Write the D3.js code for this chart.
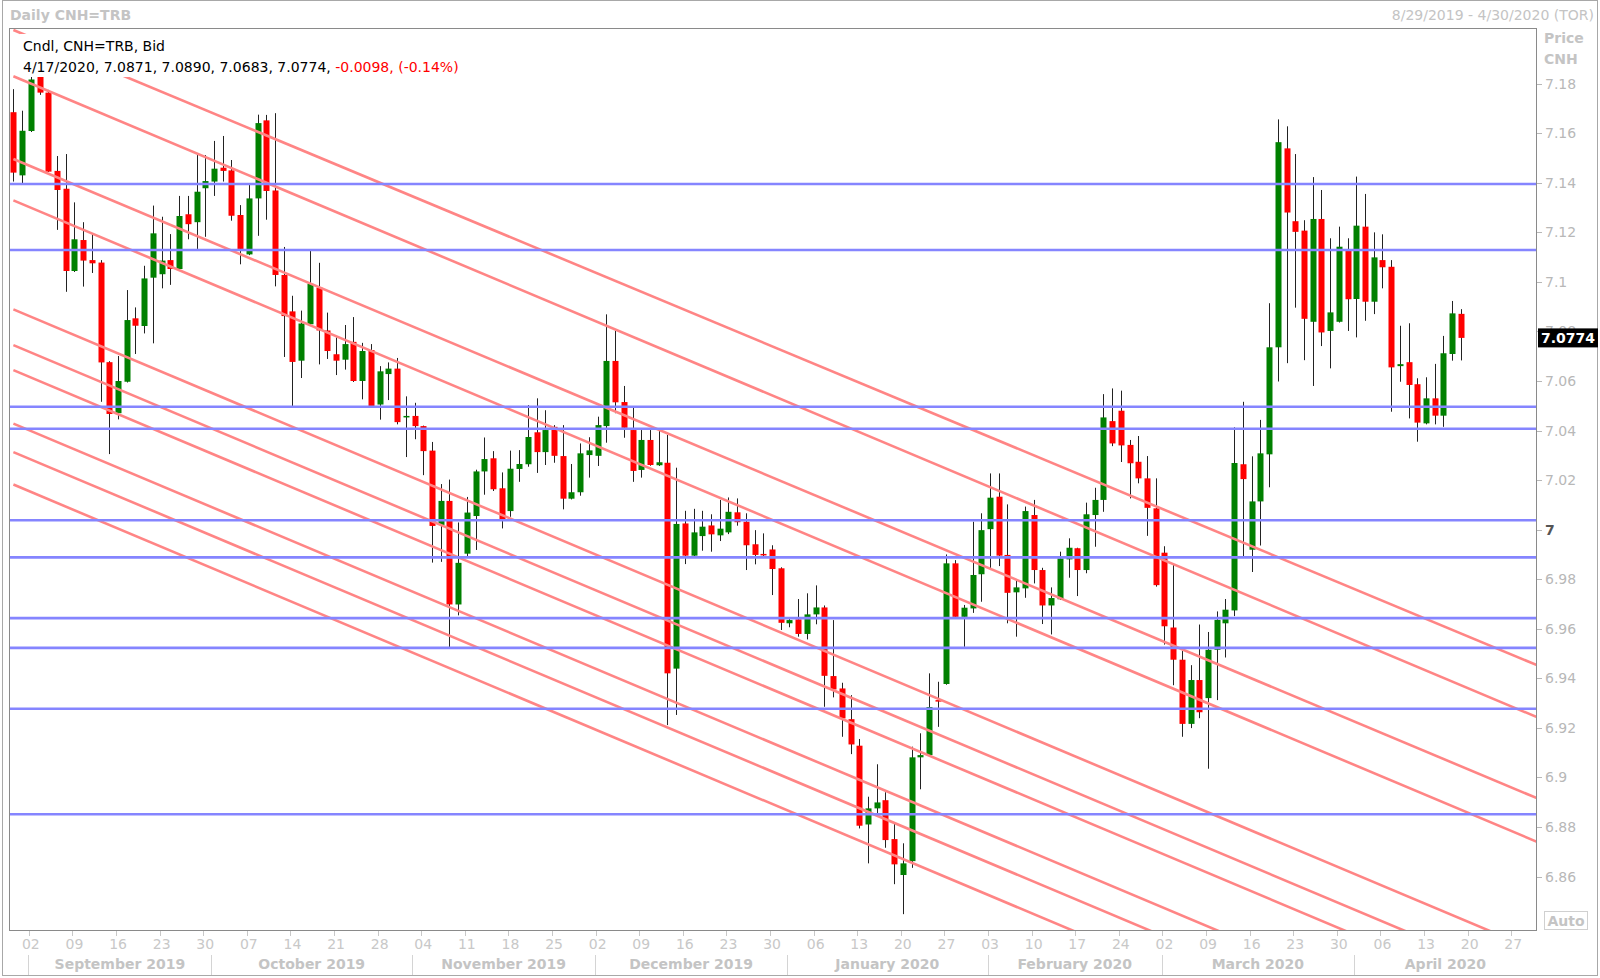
<!DOCTYPE html>
<html><head><meta charset="utf-8">
<script src="https://cdn.jsdelivr.net/npm/d3@7"></script>
<style>
body{margin:0;background:#fff;}
svg{display:block;font-family:"DejaVu Sans",Verdana,sans-serif;}
</style>
</head><body>
<svg id="c" width="1600" height="978"></svg>
<script>
// ---------------- DATA ----------------
const firstDate = "2019-08-29";   // first candle; candles run on consecutive weekdays
const lastAxisDate = "2020-04-30";

const opens = [7.1685,7.1430,7.1609,7.1828,7.1764,7.1448,7.1376,7.1044,7.1169,7.1088,
7.1078,7.0676,7.0470,7.0597,7.0853,7.0822,7.1017,7.1031,7.1088,7.1052,
7.1273,7.1241,7.1378,7.1405,7.1461,7.1450,7.1270,7.1111,7.1337,7.1652,
7.1369,7.1028,7.0881,7.0682,7.0829,7.0977,7.0804,7.0708,7.0686,7.0758,
7.0600,7.0725,7.0505,7.0628,7.0650,7.0453,7.0459,7.0418,7.0319,7.0019,
7.0116,6.9698,6.9903,7.0055,7.0235,7.0288,7.0167,7.0075,7.0245,7.0264,
7.0393,7.0313,7.0415,7.0297,7.0125,7.0151,7.0301,7.0298,7.0418,7.0681,
7.0515,7.0402,7.0241,7.0362,7.0260,7.0270,6.9439,7.0025,6.9895,6.9974,
7.0017,6.9977,6.9989,7.0070,7.0032,6.9941,6.9902,6.9920,6.9844,6.9622,
6.9638,6.9579,6.9658,6.9686,6.9409,6.9359,6.9235,6.9128,6.8810,6.8875,
6.8908,6.8751,6.8606,6.8662,6.9081,6.9090,6.9312,6.9377,6.9864,6.9648,
6.9682,6.9820,7.0002,7.0133,6.9898,6.9747,6.9763,7.0059,6.9837,6.9694,
6.9719,6.9880,6.9925,6.9837,7.0059,7.0120,7.0438,7.0480,7.0342,7.0274,
7.0207,7.0086,6.9907,6.9605,6.9475,6.9216,6.9393,6.9320,6.9515,6.9622,
6.9674,7.0264,6.9919,7.0114,7.0304,7.0736,7.1539,7.1245,7.1207,7.0839,
7.1254,7.0802,7.0839,7.1126,7.0931,7.1223,7.0920,7.1088,7.1061,7.0660,
7.0676,7.0587,7.0429,7.0530,7.0460,7.0709,7.0871];

const highs = [7.1778,7.1691,7.1829,7.1835,7.1775,7.1508,7.1516,7.1321,7.1241,7.1197,
7.1088,7.0680,7.0701,7.0967,7.0897,7.1065,7.1308,7.1263,7.1193,7.1347,
7.1347,7.1512,7.1512,7.1569,7.1589,7.1492,7.1310,7.1391,7.1675,7.1674,
7.1681,7.1141,7.0944,7.0884,7.1125,7.1077,7.0876,7.0776,7.0826,7.0858,
7.0754,7.0749,7.0660,7.0675,7.0693,7.0538,7.0512,7.0420,7.0354,7.0184,
7.0202,7.0029,7.0132,7.0242,7.0372,7.0317,7.0231,7.0319,7.0321,7.0503,
7.0530,7.0482,7.0422,7.0422,7.0265,7.0348,7.0373,7.0456,7.0869,7.0803,
7.0580,7.0492,7.0402,7.0402,7.0409,7.0382,7.0250,7.0076,7.0084,7.0076,
7.0062,7.0120,7.0130,7.0126,7.0066,6.9998,6.9985,6.9937,6.9848,6.9646,
6.9720,6.9743,6.9775,6.9694,6.9635,6.9382,6.9332,6.9155,6.8922,6.9053,
6.8940,6.8814,6.8734,6.9124,6.9178,6.9420,6.9386,6.9900,6.9877,6.9696,
7.0032,7.0066,7.0227,7.0227,7.0102,6.9797,7.0093,7.0120,6.9846,6.9767,
6.9911,6.9965,6.9927,7.0109,7.0169,7.0547,7.0570,7.0561,7.0362,7.0378,
7.0297,7.0207,6.9933,6.9860,6.9510,6.9453,6.9617,6.9587,6.9670,6.9720,
7.0413,7.0516,7.0296,7.0443,7.0914,7.1656,7.1628,7.1516,7.1249,7.1423,
7.1371,7.1176,7.1223,7.1176,7.1425,7.1355,7.1200,7.1192,7.1088,7.0823,
7.0833,7.0611,7.0615,7.0669,7.0782,7.0923,7.0890];

const lows = [7.1405,7.1398,7.1605,7.1755,7.1444,7.1210,7.0960,7.1040,7.0981,7.1036,
7.0516,7.0305,7.0445,7.0594,7.0709,7.0792,7.0752,7.0974,7.0988,7.1050,
7.1172,7.1133,7.1182,7.1347,7.1405,7.1247,7.1071,7.1108,7.1186,7.1251,
7.0982,7.0697,7.0497,7.0612,7.0826,7.0667,7.0689,7.0624,7.0646,7.0596,
7.0526,7.0497,7.0444,7.0523,7.0425,7.0293,7.0365,7.0220,6.9867,6.9870,
6.9524,6.9654,6.9886,6.9918,7.0141,7.0156,7.0005,7.0052,7.0193,7.0254,
7.0229,7.0261,7.0270,7.0082,7.0122,7.0137,7.0210,7.0257,7.0351,7.0470,
7.0371,7.0193,7.0210,7.0258,7.0257,6.9211,6.9252,6.9861,6.9892,6.9915,
6.9911,6.9954,6.9982,7.0016,6.9837,6.9860,6.9893,6.9736,6.9595,6.9606,
6.9568,6.9557,6.9618,6.9285,6.9323,6.9164,6.9094,6.8794,6.8653,6.8855,
6.8716,6.8569,6.8448,6.8635,6.8952,6.9085,6.9204,6.9374,6.9645,6.9527,
6.9664,6.9709,6.9837,6.9853,6.9622,6.9568,6.9725,6.9783,6.9619,6.9577,
6.9716,6.9806,6.9732,6.9824,6.9931,7.0072,7.0337,7.0273,7.0126,7.0187,
6.9975,6.9770,6.9536,6.9372,6.9164,6.9199,6.9239,6.9035,6.9312,6.9484,
6.9651,6.9889,6.9829,6.9936,7.0171,7.0598,7.0672,7.0896,7.0684,7.0580,
7.0741,7.0651,7.0836,7.0802,7.0776,7.0843,7.0870,7.0974,7.0476,7.0597,
7.0449,7.0355,7.0425,7.0425,7.0415,7.0682,7.0683];

const closes = [7.1441,7.1610,7.1817,7.1764,7.1445,7.1371,7.1044,7.1172,7.1086,7.1075,
7.0675,7.0467,7.0600,7.0846,7.0823,7.1014,7.1196,7.1086,7.1052,7.1266,
7.1233,7.1364,7.1407,7.1457,7.1448,7.1267,7.1133,7.1337,7.1641,7.1367,
7.1028,7.0862,7.0677,7.0832,7.0992,7.0804,7.0721,7.0682,7.0749,7.0600,
7.0721,7.0499,7.0639,7.0650,7.0434,7.0459,7.0418,7.0317,7.0015,7.0116,
6.9698,6.9866,7.0069,7.0235,7.0285,7.0163,7.0043,7.0246,7.0265,7.0374,
7.0313,7.0402,7.0298,7.0125,7.0151,7.0308,7.0320,7.0422,7.0681,7.0514,
7.0411,7.0237,7.0362,7.0261,7.0272,6.9420,7.0023,6.9895,6.9989,7.0012,
6.9981,7.0004,7.0072,7.0030,6.9937,6.9898,6.9899,6.9841,6.9624,6.9635,
6.9579,6.9658,6.9686,6.9410,6.9355,6.9238,6.9133,6.8805,6.8875,6.8899,
6.8747,6.8649,6.8653,6.9081,6.9090,6.9284,6.9310,6.9864,6.9648,6.9685,
6.9817,6.9998,7.0129,6.9895,6.9745,6.9767,7.0075,6.9837,6.9694,6.9724,
6.9884,6.9927,6.9837,7.0062,7.0120,7.0453,7.0348,7.0340,7.0268,7.0207,
7.0088,6.9776,6.9610,6.9475,6.9216,6.9393,6.9263,6.9515,6.9636,6.9677,
7.0269,7.0204,7.0114,7.0308,7.0736,7.1564,7.1280,7.1202,7.0851,7.1254,
7.0796,7.0877,7.1142,7.0930,7.1227,7.0920,7.1099,7.1059,7.0655,7.0668,
7.0584,7.0432,7.0530,7.0460,7.0712,7.0873,7.0774];

// horizontal support / resistance levels
const hLevels = [7.1395,7.1129,7.0496,7.0407,7.0038,6.9888,6.9643,6.9523,6.9277,6.8851];

// falling trend lines: price at 2019-08-29 and at 2020-04-30
const trendStart = [7.2017,7.1830,7.1496,7.1329,7.0889,7.0745,7.0644,7.0428,7.0313,7.0182];
const trendEnd   = [6.9449,6.9239,6.8912,6.8736,6.8296,6.8152,6.8051,6.7835,6.7720,6.7589];

const yTicks = [7.18,7.16,7.14,7.12,7.1,7.08,7.06,7.04,7.02,7,6.98,6.96,6.94,6.92,6.9,6.88,6.86];

const weekTicks = ["2019-09-02","2019-09-09","2019-09-16","2019-09-23","2019-09-30",
"2019-10-07","2019-10-14","2019-10-21","2019-10-28","2019-11-04","2019-11-11","2019-11-18",
"2019-11-25","2019-12-02","2019-12-09","2019-12-16","2019-12-23","2019-12-30","2020-01-06",
"2020-01-13","2020-01-20","2020-01-27","2020-02-03","2020-02-10","2020-02-17","2020-02-24",
"2020-03-02","2020-03-09","2020-03-16","2020-03-23","2020-03-30","2020-04-06","2020-04-13",
"2020-04-20","2020-04-27"];

const monthLabels = ["September 2019","October 2019","November 2019","December 2019",
"January 2020","February 2020","March 2020","April 2020"];
const monthStarts = ["2019-09-02","2019-10-01","2019-11-01","2019-12-02","2020-01-01",
"2020-02-03","2020-03-02","2020-04-01"];

const lastQuote = {date:"4/17/2020", open:7.0871, high:7.0890, low:7.0683, close:7.0774, chg:"-0.0098", pct:"(-0.14%)"};

// ---------------- LAYOUT ----------------
const svg = d3.select("#c");
const P = {l:9, t:28, r:1537, b:931};

const parse = d3.timeParse("%Y-%m-%d");
const fmt = d3.timeFormat("%Y-%m-%d");
const weekdays = d3.timeDay.range(parse(firstDate), d3.timeDay.offset(parse(lastAxisDate),1))
  .filter(d => d.getDay() !== 0 && d.getDay() !== 6);
const idx = new Map(weekdays.map((d,i)=>[fmt(d), i]));

const x = d3.scaleLinear().domain([0, weekdays.length-1]).range([13.4, 1539.4]);
const y = d3.scaleLinear().domain([6.86, 7.18]).range([876.5, 83.7]);

const candles = opens.map((o,i)=>({i, o, h:highs[i], l:lows[i], c:closes[i]}));

// outer frame
svg.append("rect").attr("x",2.5).attr("y",0.5).attr("width",1595).attr("height",975)
  .attr("fill","#fff").attr("stroke","#a8a8a8");

// header
svg.append("text").attr("x",10).attr("y",20).attr("font-size",14).attr("font-weight","bold")
  .attr("fill","#c4c4c4").text("Daily CNH=TRB");
svg.append("text").attr("x",1594).attr("y",20).attr("font-size",14).attr("text-anchor","end")
  .attr("fill","#c4c4c4").text("8/29/2019 - 4/30/2020 (TOR)");

// plot area
svg.append("defs").append("clipPath").attr("id","clip").append("rect")
  .attr("x",P.l).attr("y",P.t).attr("width",P.r-P.l).attr("height",P.b-P.t);
const plot = svg.append("g").attr("clip-path","url(#clip)");

// candles
const cg = plot.append("g");
cg.selectAll("line.wick").data(candles).join("line")
  .attr("x1",d=>Math.round(x(d.i))+0.5).attr("x2",d=>Math.round(x(d.i))+0.5)
  .attr("y1",d=>y(d.h)).attr("y2",d=>y(d.l))
  .attr("stroke","#222").attr("stroke-width",1);
cg.selectAll("rect.body").data(candles).join("rect")
  .attr("x",d=>Math.round(x(d.i))-2.5).attr("width",6)
  .attr("y",d=>y(Math.max(d.o,d.c)))
  .attr("height",d=>Math.max(1.5, Math.abs(y(d.o)-y(d.c))))
  .attr("fill",d=>d.c>=d.o ? "#008000" : "#ff0000");

// trend lines
const x0 = x(idx.get(firstDate)), x1 = x(idx.get(lastAxisDate));
plot.selectAll("line.trend").data(trendStart.map((s,k)=>[s,trendEnd[k]])).join("line")
  .attr("x1",x0).attr("x2",x1)
  .attr("y1",d=>y(d[0])).attr("y2",d=>y(d[1]))
  .attr("stroke","#ff8585").attr("stroke-width",2.6);

// horizontal levels
plot.selectAll("line.lvl").data(hLevels).join("line")
  .attr("x1",P.l).attr("x2",P.r).attr("y1",d=>y(d)).attr("y2",d=>y(d))
  .attr("stroke","#8585ff").attr("stroke-width",2.6);

// legend box
svg.append("rect").attr("x",20).attr("y",34).attr("width",446).attr("height",43).attr("fill","#fff");
svg.append("text").attr("x",23).attr("y",51).attr("font-size",14).attr("fill","#000")
  .text("Cndl, CNH=TRB, Bid");
const lt = svg.append("text").attr("x",23).attr("y",72).attr("font-size",14).attr("fill","#000");
lt.append("tspan").text(`${lastQuote.date}, ${lastQuote.open.toFixed(4)}, ${lastQuote.high.toFixed(4)}, ${lastQuote.low.toFixed(4)}, ${lastQuote.close.toFixed(4)}, `);
lt.append("tspan").attr("fill","#ff0000").text(`${lastQuote.chg}, ${lastQuote.pct}`);

// plot border
svg.append("rect").attr("x",P.l+0.5).attr("y",P.t+0.5).attr("width",P.r-P.l-1).attr("height",P.b-P.t-1)
  .attr("fill","none").attr("stroke","#8a8a8a");

// right axis
svg.append("text").attr("x",1544).attr("y",43).attr("font-size",14).attr("font-weight","bold")
  .attr("fill","#c4c4c4").text("Price");
svg.append("text").attr("x",1544).attr("y",64).attr("font-size",14).attr("font-weight","bold")
  .attr("fill","#c4c4c4").text("CNH");
const ya = svg.append("g");
ya.selectAll("line").data(yTicks).join("line")
  .attr("x1",P.r).attr("x2",P.r+5).attr("y1",d=>Math.round(y(d))+0.5).attr("y2",d=>Math.round(y(d))+0.5)
  .attr("stroke","#b8b8b8");
ya.selectAll("text").data(yTicks).join("text")
  .attr("x",1545).attr("y",d=>y(d)).attr("dy","0.36em").attr("font-size",14)
  .attr("font-weight",d=>d===7?"bold":"normal")
  .attr("fill",d=>d===7?"#555":"#b8b8b8")
  .text(d=>String(+d.toFixed(2)));

// last price label
const lp = svg.append("g");
lp.append("rect").attr("x",1538).attr("y",y(lastQuote.close)-9.5).attr("width",60).attr("height",19).attr("fill","#000");
lp.append("text").attr("x",1568).attr("y",y(lastQuote.close)).attr("dy","0.36em").attr("text-anchor","middle")
  .attr("font-size",14).attr("font-weight","bold").attr("fill","#fff").text(lastQuote.close.toFixed(4));

// Auto box
svg.append("rect").attr("x",1544.5).attr("y",911.5).attr("width",43).attr("height",18)
  .attr("fill","#fff").attr("stroke","#d0d0d0");
svg.append("text").attr("x",1566).attr("y",921).attr("dy","0.36em").attr("text-anchor","middle")
  .attr("font-size",14).attr("font-weight","bold").attr("fill","#c4c4c4").text("Auto");

// bottom axis
const xa = svg.append("g");
const tickD = weekTicks.map(s=>({s, i:idx.get(s)}));
xa.selectAll("line").data(tickD).join("line")
  .attr("x1",d=>Math.round(x(d.i))-1.5).attr("x2",d=>Math.round(x(d.i))-1.5)
  .attr("y1",P.b).attr("y2",P.b+5).attr("stroke","#c8c8c8");
xa.selectAll("text").data(tickD).join("text")
  .attr("x",d=>x(d.i)).attr("y",949).attr("text-anchor","middle")
  .attr("font-size",14).attr("fill","#c8c8c8").text(d=>d.s.slice(8,10));

const mEdges = monthStarts.map(s=>x(idx.get(s))-2.5);
const mg = svg.append("g");
mg.selectAll("line").data(mEdges).join("line")
  .attr("x1",d=>Math.round(d)+0.5).attr("x2",d=>Math.round(d)+0.5).attr("y1",955).attr("y2",975)
  .attr("stroke","#d4d4d4");
mg.selectAll("text").data(monthLabels).join("text")
  .attr("x",(d,k)=>((mEdges[k]) + (k<mEdges.length-1 ? mEdges[k+1] : P.r))/2)
  .attr("y",969).attr("text-anchor","middle").attr("font-size",14).attr("font-weight","bold")
  .attr("fill","#c4c4c4").text(d=>d);
</script>
</body></html>
